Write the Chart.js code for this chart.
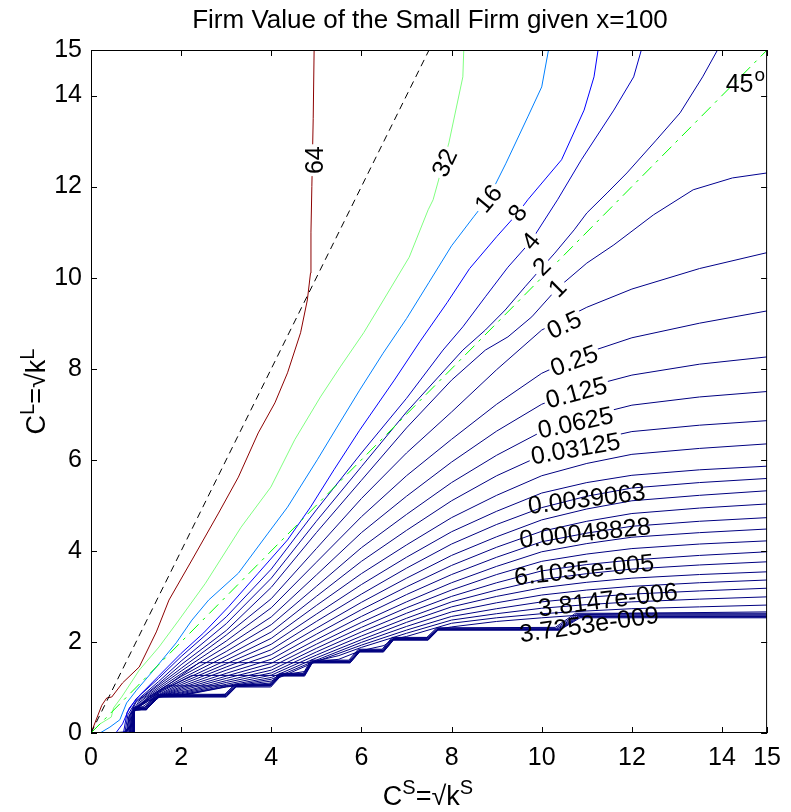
<!DOCTYPE html>
<html>
<head>
<meta charset="utf-8">
<script src="https://cdn.jsdelivr.net/npm/chart.js@4.4.0/dist/chart.umd.min.js"></script>
<style>
  html, body { margin: 0; padding: 0; background: #fff; }
</style>
</head>
<body>
<canvas id="chart" width="791" height="812"></canvas>
<script>
var FONT = '"Liberation Sans", Arial, Helvetica, sans-serif';

// axis ticks
var xTicks = [0, 2, 4, 6, 8, 10, 12, 14, 15];
var yTicks = [0, 2, 4, 6, 8, 10, 12, 14, 15];

// contours that leave through the top edge, [C_S, C_L] pairs
var c64 = [[0,0],[0.13,0.33],[0.24,0.61],[0.35,0.77],[0.46,0.79],[0.70,1.10],[1.07,1.45],[1.45,2.22],[1.73,2.92],[2.24,3.80],[2.83,4.83],[3.27,5.62],[3.71,6.59],[4.08,7.25],[4.36,7.91],[4.65,8.79],[4.80,9.51],[4.87,10.1],[4.88,11.0],[4.90,12.0],[4.93,13.5],[4.95,15]];
var c32 = [[0,0],[0.2,0.2],[0.45,0.35],[0.5,0.55],[0.68,0.79],[1.07,1.38],[1.51,1.89],[1.95,2.48],[2.54,3.29],[3.33,4.52],[3.99,5.40],[4.52,6.44],[5.09,7.38],[5.53,8.04],[6.05,8.79],[6.49,9.51],[7.06,10.45],[7.48,11.49],[7.59,11.71],[7.94,12.96],[8.25,14.41],[8.27,15]];
var c16 = [[0.2,0],[0.42,0.13],[0.64,0.29],[0.70,0.44],[0.79,0.66],[1.01,0.94],[1.45,1.45],[1.89,1.98],[2.24,2.48],[2.61,2.92],[3.27,3.51],[3.93,4.39],[4.36,4.96],[5.02,6.0],[5.46,6.72],[5.96,7.53],[6.48,8.34],[7.0,9.1],[7.5,9.9],[8.0,10.7],[8.5,11.35],[8.82,11.75],[9.2,12.5],[9.69,13.53],[10.0,14.19],[10.15,15]];
var c8 = [[0.55,0],[0.7,0.2],[0.85,0.55],[1.1,0.85],[1.5,1.25],[2.0,1.75],[2.5,2.2],[3.05,2.77],[3.71,3.51],[4.36,4.24],[4.87,4.96],[5.39,5.78],[5.96,6.65],[6.73,7.75],[7.3,8.6],[7.9,9.45],[8.4,10.2],[9.0,10.9],[9.47,11.42],[9.69,11.71],[10.44,12.59],[10.94,13.68],[11.16,14.41],[11.25,15]];
var c4 = [[0.72,0],[0.8,0.45],[1.0,0.75],[1.5,1.2],[2.0,1.68],[3.0,2.55],[4.0,3.6],[5.0,4.9],[6.0,6.15],[7.0,7.35],[7.81,8.41],[8.25,8.92],[8.75,9.58],[9.25,10.23],[9.76,10.8],[10.35,11.71],[10.88,12.59],[11.6,13.68],[12.04,14.41],[12.21,15]];
var c2 = [[0.75,0],[0.82,0.4],[1.0,0.7],[1.5,1.13],[2.0,1.58],[3.0,2.4],[4.0,3.4],[5.0,4.65],[6.0,5.85],[7.0,7.05],[8.25,8.41],[8.75,8.85],[9.19,9.29],[9.63,9.80],[10.02,10.24],[10.29,10.54],[10.72,11.05],[11.0,11.42],[11.45,11.86],[11.89,12.3],[12.54,13.02],[13.07,13.62],[13.57,14.41],[13.9,15]];
var c1 = [[0.78,0],[0.84,0.36],[1.0,0.68],[1.5,1.08],[2.0,1.5],[3.0,2.25],[4.0,3.2],[5.0,4.4],[6.0,5.55],[7.0,6.7],[8.0,7.75],[8.75,8.41],[9.25,8.70],[9.78,9.14],[10.35,9.77],[11.0,10.32],[11.6,10.72],[12.48,11.38],[13.36,11.93],[14.23,12.19],[15,12.3]];

// fan contours 2^-1 .. 2^-18: C_L read at these C_S columns
var colX = [2, 3, 4, 5, 6, 7, 8, 9, 10, 11, 12, 13.5, 15];
var f1  = [1.42, 2.15, 2.95, 4.05, 5.15, 6.15, 7.05, 7.98, 8.85, 9.35, 9.75, 10.2, 10.55];
var f2  = [1.36, 2.02, 2.75, 3.75, 4.75, 5.65, 6.45, 7.22, 7.90, 8.35, 8.68, 9.00, 9.27];
var f3  = [1.30, 1.90, 2.55, 3.47, 4.40, 5.20, 5.95, 6.63, 7.22, 7.60, 7.86, 8.10, 8.26];
var f4  = [1.24, 1.79, 2.38, 3.22, 4.07, 4.80, 5.50, 6.10, 6.62, 6.95, 7.20, 7.38, 7.50];
var f5  = [1.19, 1.69, 2.22, 3.00, 3.77, 4.45, 5.10, 5.65, 6.10, 6.40, 6.62, 6.76, 6.86];
var f6  = [1.14, 1.60, 2.08, 2.80, 3.50, 4.13, 4.73, 5.22, 5.65, 5.92, 6.12, 6.25, 6.35];
var f7  = [1.10, 1.52, 1.95, 2.61, 3.26, 3.86, 4.42, 4.87, 5.27, 5.50, 5.66, 5.78, 5.86];
var f8  = [1.06, 1.45, 1.83, 2.45, 3.05, 3.62, 4.15, 4.58, 4.95, 5.20, 5.38, 5.50, 5.59];
var f9  = [1.02, 1.38, 1.72, 2.30, 2.87, 3.40, 3.90, 4.31, 4.68, 4.92, 5.10, 5.22, 5.32];
var f10 = [0.99, 1.31, 1.62, 2.17, 2.71, 3.21, 3.68, 4.08, 4.43, 4.65, 4.82, 4.94, 5.03];
var f11 = [0.96, 1.25, 1.53, 2.05, 2.56, 3.04, 3.48, 3.86, 4.20, 4.39, 4.54, 4.65, 4.73];
var f12 = [0.93, 1.20, 1.45, 1.95, 2.43, 2.88, 3.30, 3.66, 3.98, 4.16, 4.30, 4.40, 4.48];
var f13 = [0.90, 1.15, 1.38, 1.86, 2.32, 2.75, 3.14, 3.48, 3.77, 3.93, 4.05, 4.15, 4.22];
var f14 = [0.88, 1.11, 1.32, 1.78, 2.22, 2.63, 3.00, 3.30, 3.56, 3.70, 3.80, 3.90, 3.98];
var f15 = [0.86, 1.07, 1.27, 1.71, 2.13, 2.52, 2.88, 3.14, 3.37, 3.50, 3.60, 3.69, 3.76];
var f16 = [0.84, 1.04, 1.22, 1.65, 2.05, 2.43, 2.77, 3.00, 3.19, 3.31, 3.40, 3.48, 3.54];
var f17 = [0.83, 1.02, 1.18, 1.60, 1.99, 2.34, 2.66, 2.86, 3.03, 3.14, 3.22, 3.30, 3.36];
var f18 = [0.82, 1.01, 1.14, 1.57, 1.93, 2.26, 2.56, 2.73, 2.88, 2.98, 3.05, 3.12, 3.18];

// where the fan contours leave the lower-left corner
var h1  = [[0.80,0],[0.85,0.38],[1.10,0.75]];
var h2  = [[0.82,0],[0.87,0.40],[1.15,0.76]];
var h3  = [[0.84,0],[0.89,0.42],[1.20,0.77]];
var h4  = [[0.86,0],[0.91,0.44],[1.25,0.78]];
var h5  = [[0.88,0],[0.93,0.46],[1.30,0.79]];
var h6  = [[0.90,0],[0.94,0.48],[1.35,0.79]];
var h7  = [[0.92,0],[0.95,0.50],[1.40,0.79]];
var h8  = [[0.93,0],[0.96,0.50],[1.10,0.60],[1.45,0.80]];
var h9  = [[0.94,0],[0.96,0.51],[1.15,0.58],[1.47,0.80]];
var h10 = [[0.94,0],[0.96,0.51],[1.18,0.55],[1.50,0.80]];
var h11 = [[0.95,0],[0.96,0.51],[1.21,0.53],[1.53,0.80]];
var hLow = [[0.95,0],[0.96,0.51],[1.23,0.52],[1.50,0.795]];

// lowest contours, running along the staircase edge
var f19 = [[0.95,0],[0.96,0.51],[1.23,0.53],[1.47,0.80],[2,0.81],[3.0,0.85],[3.22,1.03],[4,1.10],[4.21,1.27],[4.74,1.35],[4.91,1.56],[5.5,1.70],[6,1.88],[7,2.19],[8,2.48],[9,2.62],[10,2.74],[11,2.82],[12,2.88],[13.5,2.94],[15,2.99]];
var f20 = [[0.95,0],[0.96,0.51],[1.23,0.52],[1.47,0.80],[2,0.80],[3.0,0.82],[3.22,1.02],[4,1.07],[4.21,1.26],[4.74,1.30],[4.91,1.55],[5.5,1.62],[5.96,1.80],[6.5,1.92],[6.71,2.06],[7,2.12],[8,2.41],[9,2.53],[10,2.62],[11,2.68],[12,2.73],[13.5,2.77],[15,2.81]];
var f21 = [[0.95,0],[0.96,0.51],[1.23,0.51],[1.47,0.79],[2,0.80],[3.0,0.80],[3.22,1.02],[4,1.04],[4.21,1.26],[4.74,1.27],[4.91,1.55],[5.75,1.57],[5.96,1.79],[6.49,1.82],[6.71,2.05],[7.48,2.10],[7.70,2.28],[8,2.33],[9,2.45],[10,2.53],[11,2.60],[12,2.63],[15,2.66]];
var f22 = [[0.30,0],[0.74,0.02],[0.93,0.23],[0.93,0.57],[1.20,0.57],[1.44,0.85],[2.97,0.85],[3.19,1.07],[3.96,1.07],[4.18,1.31],[4.71,1.31],[4.88,1.60],[5.72,1.60],[5.93,1.84],[6.46,1.84],[6.68,2.10],[7.45,2.10],[7.67,2.31],[10.3,2.32],[10.75,2.63],[15,2.63]];
var f23 = [[0.28,0],[0.74,0.015],[0.94,0.225],[0.94,0.555],[1.21,0.555],[1.45,0.835],[2.98,0.835],[3.20,1.055],[3.97,1.055],[4.19,1.295],[4.72,1.295],[4.89,1.585],[5.73,1.585],[5.94,1.825],[6.47,1.825],[6.69,2.085],[7.46,2.085],[7.68,2.30],[10.32,2.30],[10.77,2.61],[15,2.61]];
var f24 = [[0.26,0],[0.75,0.01],[0.95,0.22],[0.95,0.54],[1.22,0.54],[1.46,0.82],[2.99,0.82],[3.21,1.04],[3.98,1.04],[4.20,1.28],[4.73,1.28],[4.90,1.57],[5.74,1.57],[5.95,1.81],[6.48,1.81],[6.70,2.07],[7.47,2.07],[7.69,2.285],[10.34,2.285],[10.79,2.59],[15,2.59]];
// these three run back left along a step before dropping into the fan
var f25 = [[0.85,0],[0.90,0.30],[0.96,0.52],[1.30,0.80],[1.67,1.035],[3.22,1.035],[3.98,1.035],[4.20,1.275],[4.73,1.275],[4.90,1.565],[5.74,1.565],[5.95,1.805],[6.48,1.805],[6.70,2.065],[7.47,2.065],[7.69,2.28],[10.36,2.28],[10.81,2.57],[15,2.57]];
var f26 = [[0.87,0],[0.92,0.30],[0.97,0.53],[1.60,0.95],[2.24,1.265],[4.21,1.265],[4.73,1.265],[4.90,1.555],[5.74,1.555],[5.95,1.795],[6.48,1.795],[6.70,2.055],[7.47,2.055],[7.69,2.27],[10.38,2.27],[10.83,2.56],[15,2.56]];
var f27 = [[0.90,0],[0.94,0.30],[0.98,0.54],[1.70,1.05],[2.40,1.545],[4.91,1.545],[5.75,1.545],[5.96,1.785],[6.49,1.785],[6.71,2.045],[7.48,2.045],[7.70,2.265],[10.39,2.265],[10.84,2.545],[15,2.545]];
var f28 = [[0.20,0],[0.75,0],[0.96,0.22],[0.96,0.51],[1.23,0.51],[1.47,0.79],[3.0,0.79],[3.22,1.01],[3.99,1.01],[4.21,1.25],[4.74,1.25],[4.91,1.54],[5.75,1.54],[5.96,1.78],[6.49,1.78],[6.71,2.04],[7.48,2.04],[7.70,2.26],[10.4,2.26],[10.85,2.53],[15,2.53]];

// reference lines
var diag45 = [[0,0],[15,15]];
var ray2 = [[0,0],[7.5,15]];

// contour labels
var labelText = ['64','32','16','8','4','2','1','0.5','0.25','0.125','0.0625','0.03125','0.0039063','0.00048828','6.1035e-005','3.8147e-006','3.7253e-009'];
var labelX = [4.98, 7.85, 8.82, 9.47, 9.76, 10.0, 10.35, 10.5, 10.72, 10.77, 10.75, 10.75, 11.0, 10.96, 10.94, 11.47, 11.05];
var labelY = [12.58, 12.52, 11.73, 11.42, 10.8, 10.24, 9.77, 8.96, 8.17, 7.47, 6.81, 6.24, 5.14, 4.39, 3.58, 2.92, 2.38];
var labelRot = [-90, -65, -50, -55, -50, -45, -45, -25, -20, -15, -12, -10, -7, -6, -6, -7, -8];
var angleLabelAt = [14.08, 14.08];

function toPts(arr) {
  return arr.map(function(p){ return {x: p[0], y: p[1]}; });
}
function fanPts(head, ys) {
  return toPts(head).concat(colX.map(function(x, i){ return {x: x, y: ys[i]}; }));
}
function contour(data, color) {
  return { data: data, borderColor: color, borderWidth: 1, showLine: true, pointRadius: 0, fill: false };
}

var datasets = [
  { data: toPts(diag45), borderColor: '#00ff00', borderWidth: 1, borderDash: [13, 6, 3, 6], showLine: true, pointRadius: 0 },
  { data: toPts(ray2), borderColor: '#000000', borderWidth: 1, borderDash: [7, 5], showLine: true, pointRadius: 0 },
  contour(toPts(c64), '#8c0000'),
  contour(toPts(c32), '#80ff80'),
  contour(toPts(c16), '#0080ff'),
  contour(toPts(c8), '#0000ff'),
  contour(toPts(c4), '#0000c0'),
  contour(toPts(c2), '#0000a0'),
  contour(toPts(c1), '#000090'),
  contour(fanPts(h1, f1), '#000088'),
  contour(fanPts(h2, f2), '#000084'),
  contour(fanPts(h3, f3), '#000082'),
  contour(fanPts(h4, f4), '#000080'),
  contour(fanPts(h5, f5), '#000080'),
  contour(fanPts(h6, f6), '#000080'),
  contour(fanPts(h7, f7), '#000080'),
  contour(fanPts(h8, f8), '#000080'),
  contour(fanPts(h9, f9), '#000080'),
  contour(fanPts(h10, f10), '#000080'),
  contour(fanPts(h11, f11), '#000080'),
  contour(fanPts(hLow, f12), '#000080'),
  contour(fanPts(hLow, f13), '#000080'),
  contour(fanPts(hLow, f14), '#000080'),
  contour(fanPts(hLow, f15), '#000080'),
  contour(fanPts(hLow, f16), '#000080'),
  contour(fanPts(hLow, f17), '#000080'),
  contour(fanPts(hLow, f18), '#000080')
];
[f19, f20, f21, f22, f23, f24, f25, f26, f27, f28].forEach(function(a){
  datasets.push(contour(toPts(a), '#000080'));
});

// frame, inward ticks, titles and contour labels
var decor = {
  id: 'decor',
  afterDatasetsDraw: function(chart) {
    var ctx = chart.ctx, xs = chart.scales.x, ys = chart.scales.y;
    ctx.save();
    ctx.font = '25px ' + FONT;
    ctx.textAlign = 'center';
    ctx.textBaseline = 'middle';
    for (var i = 0; i < labelText.length; i++) {
      var px = xs.getPixelForValue(labelX[i]), py = ys.getPixelForValue(labelY[i]);
      ctx.save();
      ctx.translate(px, py);
      ctx.rotate(labelRot[i] * Math.PI / 180);
      if (i < 12) {
        var w = ctx.measureText(labelText[i]).width;
        ctx.fillStyle = '#fff';
        ctx.fillRect(-w / 2 - 2, -9, w + 4, 18);
      }
      ctx.fillStyle = '#000';
      ctx.fillText(labelText[i], 0, 1);
      ctx.restore();
    }
    // 45 degree marker
    var gx = xs.getPixelForValue(angleLabelAt[0]), gy = ys.getPixelForValue(angleLabelAt[1]);
    ctx.textAlign = 'left';
    ctx.textBaseline = 'alphabetic';
    ctx.fillText('45', gx, gy);
    var w45 = ctx.measureText('45').width;
    ctx.font = '19px ' + FONT;
    ctx.fillText('o', gx + w45 + 1, gy - 11);
    ctx.restore();
  },
  afterDraw: function(chart) {
    var ctx = chart.ctx, a = chart.chartArea, xs = chart.scales.x, ys = chart.scales.y;
    ctx.save();
    ctx.strokeStyle = '#000';
    ctx.lineWidth = 1;
    ctx.strokeRect(a.left + 0.5, a.top + 0.5, a.right - a.left - 1, a.bottom - a.top - 1);
    ctx.beginPath();
    xTicks.forEach(function(v) {
      var p = Math.round(xs.getPixelForValue(v)) + 0.5;
      ctx.moveTo(p, a.bottom); ctx.lineTo(p, a.bottom - 6);
      ctx.moveTo(p, a.top); ctx.lineTo(p, a.top + 6);
    });
    yTicks.forEach(function(v) {
      var p = Math.round(ys.getPixelForValue(v)) + 0.5;
      ctx.moveTo(a.left, p); ctx.lineTo(a.left + 6, p);
      ctx.moveTo(a.right, p); ctx.lineTo(a.right - 6, p);
    });
    ctx.stroke();

    ctx.fillStyle = '#000';
    ctx.textBaseline = 'alphabetic';
    ctx.textAlign = 'center';
    ctx.font = '26px ' + FONT;
    ctx.fillText('Firm Value of the Small Firm given x=100', 430, 28);

    // C^S = sqrt k^S
    drawSup(ctx, [['C', 0], ['S', 1], ['=\u221Ak', 0], ['S', 1]], 428, 805);
    ctx.save();
    ctx.translate(45, (a.top + a.bottom) / 2);
    ctx.rotate(-Math.PI / 2);
    drawSup(ctx, [['C', 0], ['L', 1], ['=\u221Ak', 0], ['L', 1]], 0, 0);
    ctx.restore();
    ctx.restore();
  }
};

function drawSup(ctx, parts, cx, base) {
  var big = '27px ' + FONT, small = '20px ' + FONT;
  var total = 0;
  parts.forEach(function(p){ ctx.font = p[1] ? small : big; total += ctx.measureText(p[0]).width; });
  var x = cx - total / 2;
  ctx.textAlign = 'left';
  parts.forEach(function(p){
    ctx.font = p[1] ? small : big;
    ctx.fillText(p[0], x, p[1] ? base - 11 : base);
    x += ctx.measureText(p[0]).width;
  });
}

new Chart(document.getElementById('chart').getContext('2d'), {
  type: 'scatter',
  data: { datasets: datasets },
  options: {
    responsive: false,
    animation: false,
    devicePixelRatio: 1,
    layout: { padding: { left: 0, right: 16, top: 50, bottom: 0 } },
    plugins: { legend: { display: false }, tooltip: { enabled: false }, title: { display: false } },
    elements: { line: { tension: 0 }, point: { radius: 0 } },
    scales: {
      x: {
        type: 'linear', min: 0, max: 15,
        grid: { display: false, drawTicks: false },
        border: { display: false },
        afterBuildTicks: function(s) { s.ticks = xTicks.map(function(v){ return {value: v}; }); },
        afterFit: function(s) { s.height = 79; },
        ticks: { font: { family: FONT, size: 25 }, color: '#000', padding: 10, maxRotation: 0, autoSkip: false }
      },
      y: {
        type: 'linear', min: 0, max: 15,
        grid: { display: false, drawTicks: false },
        border: { display: false },
        afterBuildTicks: function(s) { s.ticks = yTicks.map(function(v){ return {value: v}; }); },
        afterFit: function(s) { s.width = 91; },
        ticks: { font: { family: FONT, size: 25 }, color: '#000', padding: 9, autoSkip: false }
      }
    }
  },
  plugins: [decor]
});
</script>
</body>
</html>
